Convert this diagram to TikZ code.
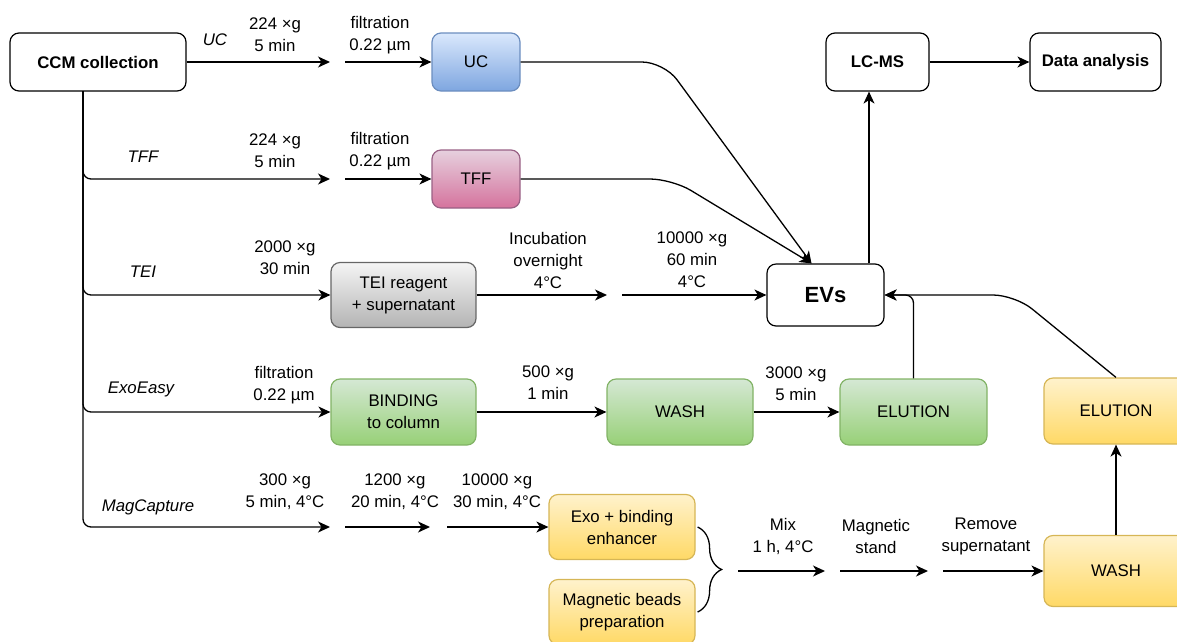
\documentclass[tikz,border=0pt]{standalone}
\usepackage{fontspec}
\setmainfont{Liberation Sans}
\usetikzlibrary{arrows.meta,decorations.pathreplacing}
\definecolor{ucline}{HTML}{6C8EBF}
\definecolor{uctop}{HTML}{DAE8FC}
\definecolor{ucbot}{HTML}{7EA6E0}
\definecolor{tffline}{HTML}{996185}
\definecolor{tfftop}{HTML}{E6D0DE}
\definecolor{tffbot}{HTML}{D5739D}
\definecolor{teiline}{HTML}{666666}
\definecolor{teitop}{HTML}{F5F5F5}
\definecolor{teibot}{HTML}{B3B3B3}
\definecolor{exoline}{HTML}{82B366}
\definecolor{exotop}{HTML}{D5E8D4}
\definecolor{exobot}{HTML}{97D077}
\definecolor{magline}{HTML}{D6B656}
\definecolor{magtop}{HTML}{FFF2CC}
\definecolor{magbot}{HTML}{FFD966}
\newcommand\stepfont{\fontsize{16.8}{22}\selectfont}

\tikzset{
  box/.style={rounded corners=9pt, line width=1.2pt, align=center, inner sep=0pt},
  plain/.style={box, draw=black, fill=white, font=\stepfont\bfseries},
  ucbox/.style={box, draw=ucline, top color=uctop, bottom color=ucbot},
  tffbox/.style={box, draw=tffline, top color=tfftop, bottom color=tffbot},
  teibox/.style={box, draw=teiline, top color=teitop, bottom color=teibot},
  exobox/.style={box, draw=exoline, top color=exotop, bottom color=exobot},
  magbox/.style={box, draw=magline, top color=magtop, bottom color=magbot},
  arr/.style={-{Stealth[length=12pt,width=11pt,inset=3.5pt]}, line width=1.3pt},
  steplbl/.style={align=center, inner sep=0pt},
  methlbl/.style={inner sep=0pt, font=\stepfont\itshape}
}

\begin{document}
\begin{tikzpicture}[x=1pt,y=-1pt,font=\stepfont]
  \useasboundingbox (0,0) rectangle (1177,641);

  % boxes
  \node[plain, minimum width=176pt, minimum height=58pt] (ccm) at (98,62) {CCM collection};
  \node[plain, minimum width=103pt, minimum height=58pt] (lcms) at (877.5,62) {LC-MS};
  \node[plain, minimum width=131pt, minimum height=58pt] (data) at (1095.5,62) {Data analysis};
  \node[plain, minimum width=117pt, minimum height=62pt, font=\fontsize{22}{26}\selectfont\bfseries] (evs) at (825.5,295) {EVs};

  \node[ucbox, minimum width=88pt, minimum height=58pt] (uc) at (476,62) {UC};
  \node[tffbox, minimum width=88pt, minimum height=58pt] (tff) at (476,179) {TFF};
  \node[teibox, minimum width=145pt, minimum height=65pt] (tei) at (403.5,295) {TEI reagent\\+ supernatant};

  \node[exobox, minimum width=145pt, minimum height=66pt] (bind) at (403.5,412) {BINDING\\to column};
  \node[exobox, minimum width=146pt, minimum height=66pt] (wash1) at (680,412) {WASH};
  \node[exobox, minimum width=147pt, minimum height=66pt] (elut1) at (913.5,412) {ELUTION};

  \node[magbox, minimum width=146pt, minimum height=65pt] (exo) at (622,527) {Exo + binding\\enhancer};
  \node[magbox, minimum width=146pt, minimum height=65pt] (beads) at (622,612) {Magnetic beads\\preparation};
  \node[magbox, minimum width=144pt, minimum height=66pt] (elut2) at (1116,411) {ELUTION};
  \node[magbox, minimum width=144pt, minimum height=71pt] (wash2) at (1116,571) {WASH};

  % free ends of the split arrows
  \coordinate (u1) at (330,62);   \coordinate (u2) at (345,62);
  \coordinate (f1) at (330,179);  \coordinate (f2) at (345,179);
  \coordinate (t1) at (607,295);  \coordinate (t2) at (622,295);
  \coordinate (m1) at (330,527);  \coordinate (m2) at (345,527);
  \coordinate (m3) at (430,527);  \coordinate (m4) at (447,527);
  \coordinate (c1) at (738,571);  \coordinate (c2) at (825,571);
  \coordinate (c3) at (840,571);  \coordinate (c4) at (928,571);
  \coordinate (c5) at (943,571);
  \coordinate (trunk) at (83,91);

  % UC and TFF rows
  \draw[arr] (ccm.east) -- (u1);
  \draw[arr] (u2) -- (uc.west);
  \draw[arr, rounded corners=8pt] (trunk) |- (f1);
  \draw[arr] (f2) -- (tff.west);
  \draw[arr, rounded corners=22pt] (uc.east) -- (664,62) -- ([xshift=-14pt]evs.north);
  \draw[arr, rounded corners=22pt] (tff.east) -- (672,179) -- ([xshift=-14pt]evs.north);

  % TEI row
  \draw[arr, rounded corners=8pt] (trunk) |- (tei.west);
  \draw[arr] (tei.east) -- (t1);
  \draw[arr] (t2) -- (evs.west);

  % ExoEasy row
  \draw[arr, rounded corners=8pt] (trunk) |- (bind.west);
  \draw[arr] (bind.east) -- (wash1.west);
  \draw[arr] (wash1.east) -- (elut1.west);
  \draw[arr, rounded corners=8pt] (elut1.north) |- (evs.east);

  % MagCapture row
  \draw[arr, rounded corners=8pt] (trunk) |- (m1);
  \draw[arr] (m2) -- (m3);
  \draw[arr] (m4) -- (exo.west);
  \draw[line width=1.3pt, decorate, decoration={brace, amplitude=24pt}]
    ([xshift=2pt]exo.east) -- ([xshift=2pt]beads.east);
  \draw[arr] (c1) -- (c2);
  \draw[arr] (c3) -- (c4);
  \draw[arr] (c5) -- (wash2.west);
  \draw[arr] (wash2.north) -- (elut2.south);
  \draw[arr, rounded corners=22pt] (elut2.north) -- (1015,295) -- (evs.east);

  % analysis
  \draw[arr] ([xshift=43.5pt]evs.north) -- ([xshift=-8.5pt]lcms.south);
  \draw[arr] (lcms.east) -- (data.west);

  % method names
  \foreach \n/\xx/\yy/\txt in {uc/215/40/UC, tff/143/157/TFF, tei/143/272/TEI,
      exo/141/389/ExoEasy, mag/148/507/MagCapture}
    \node[methlbl] (meth-\n) at (\xx,\yy) {\txt};

  % step conditions
  \foreach \n/\xx/\yy/\txt in {
      a/275/35/{224 ×g\\5 min}, b/380/35/{filtration\\0.22 µm},
      c/275/151/{224 ×g\\5 min}, d/380/151/{filtration\\0.22 µm},
      e/285/258/{2000 ×g\\30 min}, f/548/260/{Incubation\\overnight\\4°C},
      g/692/260/{10000 ×g\\60 min\\4°C},
      h/284/385/{filtration\\0.22 µm}, i/548/383/{500 ×g\\1 min},
      j/796/384/{3000 ×g\\5 min},
      k/285/492/{300 ×g\\5 min, 4°C}, l/395/492/{1200 ×g\\20 min, 4°C},
      m/497/492/{10000 ×g\\30 min, 4°C},
      n/783/536/{Mix\\1 h, 4°C}, o/876/536/{Magnetic\\stand},
      p/986/536/{Remove\\supernatant}}
    \node[steplbl] (cond-\n) at (\xx,\yy) {\txt};
\end{tikzpicture}
\end{document}
